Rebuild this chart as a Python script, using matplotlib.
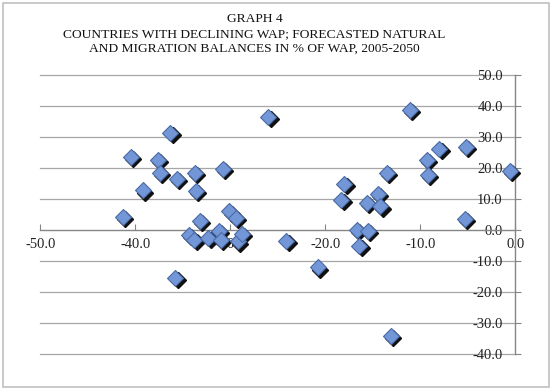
import matplotlib
matplotlib.use("Agg")
import matplotlib.pyplot as plt
from matplotlib.transforms import offset_copy
from matplotlib.patches import Rectangle

# natural balance (x) vs migration balance (y), % of WAP
natural = [-41.3, -40.5, -39.2, -37.6, -37.4, -36.3, -35.8, -35.6, -34.4, -33.8,
           -33.7, -33.6, -33.2, -32.3, -31.2, -31.0, -30.8, -30.1, -29.4, -29.2,
           -28.8, -26.0, -24.1, -20.8,
           -18.0, -18.3, -16.7, -16.4, -15.6, -15.5, -14.5, -14.2, -13.5, -13.1,
           -11.1, -9.3, -9.2, -8.0, -5.2, -5.3, -0.6]
migration = [4.3, 23.5, 12.8, 22.5, 18.4, 31.3, -15.5, 16.5, -1.5, -3.1,
             18.4, 12.6, 3.0, -2.6, -0.4, -3.1, 19.7, 6.0, 3.9, -3.7,
             -1.3, 36.5, -3.5, -12.1,
             14.9, 9.8, 0.1, -5.1, 8.8, -0.4, 11.7, 7.6, 18.4, -34.1,
             38.8, 22.5, 17.8, 26.1, 26.8, 3.6, 19.1]

x_ticks = [-50, -40, -30, -20, -10, 0]
y_ticks = [-40, -30, -20, -10, 0, 10, 20, 30, 40, 50]

title_lines = ["GRAPH 4",
               "COUNTRIES WITH DECLINING WAP; FORECASTED NATURAL",
               "AND MIGRATION BALANCES IN % OF WAP, 2005-2050"]

plt.rcParams["font.family"] = ["Liberation Serif", "DejaVu Serif"]

fig = plt.figure(figsize=(5.57, 3.92), dpi=100)
fig.patches.append(Rectangle((0.006, 0.012), 0.98, 0.98, transform=fig.transFigure,
                             fill=False, edgecolor="#c0c0c0", linewidth=1.2))

ax = fig.add_axes([0.0724, 0.097, 0.8527, 0.712])
ax.set_xlim(-50, 0)
ax.set_ylim(-40, 50)

for y in y_ticks:
    if y != 0:
        ax.axhline(y, color="#a6a6a6", linewidth=0.9, zorder=0, clip_on=False)

for side in ["top", "right"]:
    ax.spines[side].set_visible(False)
ax.spines["left"].set_position(("data", 0))
ax.spines["bottom"].set_position(("data", 0))
for side in ["left", "bottom"]:
    ax.spines[side].set_color("#868686")
    ax.spines[side].set_linewidth(1.0)

ax.set_xticks(x_ticks)
ax.set_xticklabels([f"{v:.1f}" for v in x_ticks])
ax.set_yticks(y_ticks)
ax.set_yticklabels([f"{v:.1f}" for v in y_ticks])
ax.tick_params(axis="both", direction="in", length=4, color="#868686",
               labelsize=10.5, labelcolor="#222222")
ax.tick_params(axis="x", pad=6)
ax.tick_params(axis="y", pad=9)

shadow = offset_copy(ax.transData, fig=fig, x=2.3, y=-2.3, units="dots")
ax.plot(natural, migration, linestyle="none", marker="D", markersize=8.5,
        color="#111111", transform=shadow, zorder=3, clip_on=False)
ax.plot(natural, migration, linestyle="none", marker="D", markersize=8.5,
        markerfacecolor="#7396d6", markeredgecolor="#4a6aa8", markeredgewidth=0.8,
        zorder=4, clip_on=False)

for i, line in enumerate(title_lines):
    fig.text(0.457, 0.952 - i * 0.0385, line, ha="center", va="center",
             fontsize=9.7, color="#111111")

fig.savefig("out.png", dpi=100)
